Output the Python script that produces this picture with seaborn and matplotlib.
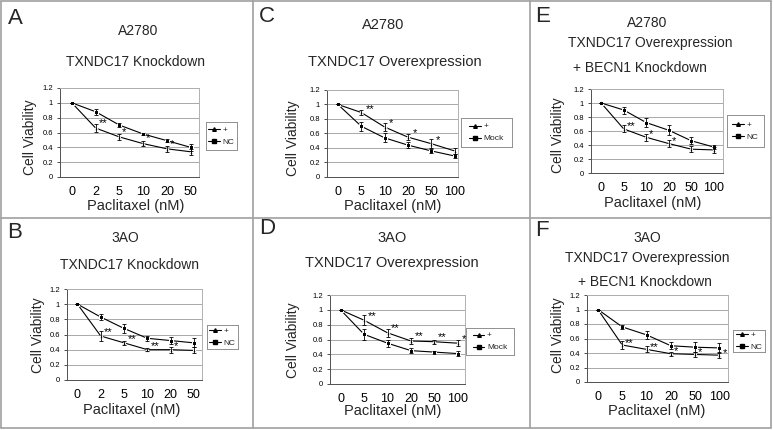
import matplotlib
matplotlib.use("Agg")
import matplotlib.pyplot as plt
import seaborn as sns
import pandas as pd
from matplotlib.lines import Line2D

sns.set_theme(style="white")
plt.rcParams['font.family'] = ['Liberation Sans', 'DejaVu Sans']

# ---------------- data ----------------
doses_knock = ["0", "2", "5", "10", "20", "50"]
doses_over = ["0", "5", "10", "20", "50", "100"]

# A: A2780 TXNDC17 knockdown
A_plus = [1.0, 0.66, 0.54, 0.45, 0.38, 0.34]
A_plus_err = [0.0, 0.05, 0.04, 0.03, 0.04, 0.04]
A_ctrl = [1.0, 0.88, 0.70, 0.58, 0.49, 0.40]
A_ctrl_err = [0.0, 0.04, 0.03, 0.02, 0.02, 0.05]
A_stars = ["", "**", "*", "*", "*", ""]

# B: 3AO TXNDC17 knockdown
B_plus = [1.0, 0.58, 0.49, 0.40, 0.40, 0.39]
B_plus_err = [0.0, 0.06, 0.03, 0.02, 0.04, 0.04]
B_ctrl = [1.0, 0.83, 0.68, 0.55, 0.52, 0.49]
B_ctrl_err = [0.0, 0.04, 0.06, 0.03, 0.05, 0.06]
B_stars = ["", "**", "**", "**", "*", ""]

# C: A2780 TXNDC17 overexpression
C_plus = [1.0, 0.89, 0.69, 0.55, 0.46, 0.36]
C_plus_err = [0.0, 0.04, 0.06, 0.04, 0.06, 0.04]
C_ctrl = [1.0, 0.70, 0.54, 0.44, 0.36, 0.29]
C_ctrl_err = [0.0, 0.06, 0.06, 0.04, 0.03, 0.03]
C_stars = ["", "**", "*", "*", "*", ""]

# D: 3AO TXNDC17 overexpression
D_plus = [1.0, 0.86, 0.69, 0.58, 0.57, 0.55]
D_plus_err = [0.0, 0.07, 0.05, 0.04, 0.03, 0.04]
D_ctrl = [1.0, 0.67, 0.55, 0.45, 0.43, 0.41]
D_ctrl_err = [0.0, 0.07, 0.05, 0.03, 0.02, 0.03]
D_stars = ["", "**", "**", "**", "**", "**"]

# E: A2780 TXNDC17 overexpression + BECN1 knockdown
E_plus = [1.0, 0.63, 0.51, 0.42, 0.34, 0.33]
E_plus_err = [0.0, 0.05, 0.05, 0.05, 0.04, 0.04]
E_ctrl = [1.0, 0.90, 0.72, 0.61, 0.46, 0.37]
E_ctrl_err = [0.0, 0.05, 0.06, 0.07, 0.05, 0.03]
E_stars = ["", "**", "*", "*", "", ""]

# F: 3AO TXNDC17 overexpression + BECN1 knockdown
F_plus = [1.0, 0.51, 0.45, 0.39, 0.38, 0.37]
F_plus_err = [0.0, 0.05, 0.04, 0.03, 0.03, 0.04]
F_ctrl = [1.0, 0.76, 0.65, 0.50, 0.48, 0.47]
F_ctrl_err = [0.0, 0.03, 0.05, 0.05, 0.07, 0.07]
F_stars = ["", "**", "**", "*", "*", "*"]

y_ticks = [0, 0.2, 0.4, 0.6, 0.8, 1.0, 1.2]
y_ticklabels = ["0", "0.2", "0.4", "0.6", "0.8", "1", "1.2"]

# ---------------- layout helpers ----------------
W, H = 773, 430
fig = plt.figure(figsize=(W / 100, H / 100), dpi=100)
fig.patch.set_facecolor("white")


def fx(x):
    return x / W


def fy(y):
    return 1 - y / H


def rect(l, t, r, b):
    return [fx(l), fy(b), (r - l) / W, (b - t) / H]


# panel frame lines
frame_col = "#a0a0a0"
for (x0, y0, x1, y1) in [(1, 1, 771, 1), (1, 428, 771, 428), (1, 1, 1, 428), (771, 1, 771, 428),
                         (252.5, 1, 252.5, 428), (529.5, 1, 529.5, 428), (1, 218, 771, 218)]:
    fig.add_artist(Line2D([fx(x0), fx(x1)], [fy(y0), fy(y1)], color=frame_col, lw=1.2))

panels = [
    dict(letter="A", doses=doses_knock, plus=A_plus, plus_err=A_plus_err, ctrl=A_ctrl, ctrl_err=A_ctrl_err,
         stars=A_stars, star_dx=0.12, star_dy=0.07, ctrl_name="NC", tfs=10,
         titles=[("A2780", 138, 31), ("TXNDC17 Knockdown", 135, 62)],
         letter_xy=(15, 19), ax=(60, 88, 199, 177), ylab=(30, 137), xlab=(136, 206),
         leg=(206, 122, 237, 150), xlim=(-0.5, 5.35)),
    dict(letter="B", doses=doses_knock, plus=B_plus, plus_err=B_plus_err, ctrl=B_ctrl, ctrl_err=B_ctrl_err,
         stars=B_stars, star_dx=0.15, star_dy=0.05, ctrl_name="NC", tfs=10,
         titles=[("3AO", 125, 238), ("TXNDC17 Knockdown", 130, 265)],
         letter_xy=(15, 233), ax=(67, 289, 202, 380), ylab=(38, 335), xlab=(132, 410),
         leg=(207, 325, 238, 349), xlim=(-0.45, 5.35)),
    dict(letter="C", doses=doses_over, plus=C_plus, plus_err=C_plus_err, ctrl=C_ctrl, ctrl_err=C_ctrl_err,
         stars=C_stars, star_dx=0.2, star_dy=0.05, ctrl_name="Mock", tfs=10.5,
         titles=[("A2780", 383, 25), ("TXNDC17 Overexpression", 395, 62)],
         letter_xy=(267, 16), ax=(327, 90, 458, 177), ylab=(293, 138), xlab=(393, 206),
         leg=(461, 118, 512, 147), xlim=(-0.47, 5.15)),
    dict(letter="D", doses=doses_over, plus=D_plus, plus_err=D_plus_err, ctrl=D_ctrl, ctrl_err=D_ctrl_err,
         stars=D_stars, star_dx=0.15, star_dy=0.06, ctrl_name="Mock", tfs=10.5,
         titles=[("3AO", 392, 238), ("TXNDC17 Overexpression", 392, 263)],
         letter_xy=(267, 229), ax=(330, 295, 465, 384), ylab=(293, 340), xlab=(393, 411),
         leg=(466, 328, 514, 355), xlim=(-0.45, 5.3)),
    dict(letter="E", doses=doses_over, plus=E_plus, plus_err=E_plus_err, ctrl=E_ctrl, ctrl_err=E_ctrl_err,
         stars=E_stars, star_dx=0.12, star_dy=0.04, ctrl_name="NC", tfs=10,
         titles=[("A2780", 647, 23), ("TXNDC17 Overexpression", 650, 43), ("+ BECN1 Knockdown", 640, 68)],
         letter_xy=(543, 16), ax=(591, 89, 723, 173), ylab=(558, 135), xlab=(653, 203),
         leg=(727, 115, 764, 147), xlim=(-0.45, 5.4)),
    dict(letter="F", doses=doses_over, plus=F_plus, plus_err=F_plus_err, ctrl=F_ctrl, ctrl_err=F_ctrl_err,
         stars=F_stars, star_dx=0.12, star_dy=0.03, ctrl_name="NC", tfs=10,
         titles=[("3AO", 647, 238), ("TXNDC17 Overexpression", 647, 258), ("+ BECN1 Knockdown", 645, 282)],
         letter_xy=(542, 231), ax=(587, 295, 728, 382), ylab=(558, 335), xlab=(657, 411),
         leg=(733, 330, 765, 352), xlim=(-0.45, 5.35)),
]

for p in panels:
    ax = fig.add_axes(rect(*p["ax"]))
    n = len(p["doses"])
    idx = list(range(n))
    df = pd.DataFrame({
        "x": idx * 2,
        "y": p["plus"] + p["ctrl"],
        "err": p["plus_err"] + p["ctrl_err"],
        "group": ["+"] * n + [p["ctrl_name"]] * n,
    })
    sns.lineplot(data=df, x="x", y="y", hue="group", style="group",
                 palette={"+": "black", p["ctrl_name"]: "black"},
                 markers={"+": "^", p["ctrl_name"]: "s"}, dashes=False,
                 markersize=2.6, linewidth=0.8, ax=ax, legend=False)
    for g, sub in df.groupby("group", sort=False):
        ax.errorbar(sub["x"], sub["y"], yerr=sub["err"], fmt="none", ecolor="black",
                    elinewidth=0.6, capsize=1.6, capthick=0.6)
    # significance stars
    vals = p["plus"]
    for i, s in enumerate(p["stars"]):
        if s:
            ax.text(i + p["star_dx"], vals[i] + p["star_dy"], s, fontsize=8, ha="left", va="center",
                    color="black")

    ax.set_xlim(*p["xlim"])
    ax.set_ylim(0, 1.2)
    ax.set_yticks(y_ticks)
    ax.set_yticklabels(y_ticklabels, fontsize=5.5)
    ax.set_xticks(idx)
    ax.set_xticklabels(p["doses"], fontsize=9)
    ax.set_xlabel("")
    ax.set_ylabel("")
    ax.grid(axis="y", color="#9a9a9a", lw=0.6)
    ax.set_axisbelow(True)
    for side in ["top", "right"]:
        ax.spines[side].set_color("#b0b0b0")
        ax.spines[side].set_linewidth(0.7)
    ax.spines["left"].set_color("#505050")
    ax.spines["bottom"].set_color("#505050")
    ax.spines["left"].set_linewidth(0.7)
    ax.spines["bottom"].set_linewidth(0.7)
    ax.tick_params(axis="y", left=True, length=2, width=0.6, pad=3, colors="#303030")
    ax.tick_params(axis="x", bottom=False, pad=0.5, colors="#202020")
    for lab in ax.get_xticklabels():
        lab.set_color("black")
    for lab in ax.get_yticklabels():
        lab.set_color("black")

    # legend box (drawn in figure coords)
    l, t, r, b = p["leg"]
    lax = fig.add_axes(rect(l, t, r, b))
    lax.set_xlim(0, 1)
    lax.set_ylim(0, 1)
    lax.set_xticks([])
    lax.set_yticks([])
    for sp in lax.spines.values():
        sp.set_color("#909090")
        sp.set_linewidth(0.7)
    handles = [Line2D([], [], color="black", lw=0.8, marker="^", markersize=2.6),
               Line2D([], [], color="black", lw=0.8, marker="s", markersize=2.6)]
    lax.legend(handles, ["+", p["ctrl_name"]], loc="center", frameon=False, fontsize=6,
               handlelength=1.4, handletextpad=0.3, labelspacing=0.5, borderpad=0.1)

    # texts
    for txt, x, y in p["titles"]:
        fig.text(fx(x), fy(y), txt, fontsize=p["tfs"], ha="center", va="center")
    fig.text(fx(p["letter_xy"][0]), fy(p["letter_xy"][1]), p["letter"], fontsize=16, ha="center", va="center")
    fig.text(fx(p["ylab"][0]), fy(p["ylab"][1]), "Cell Viability", fontsize=10, rotation=90,
             ha="center", va="center")
    fig.text(fx(p["xlab"][0]), fy(p["xlab"][1]), "Paclitaxel (nM)", fontsize=10.5, ha="center", va="center")

fig.savefig("out.png", dpi=100, facecolor="white")
